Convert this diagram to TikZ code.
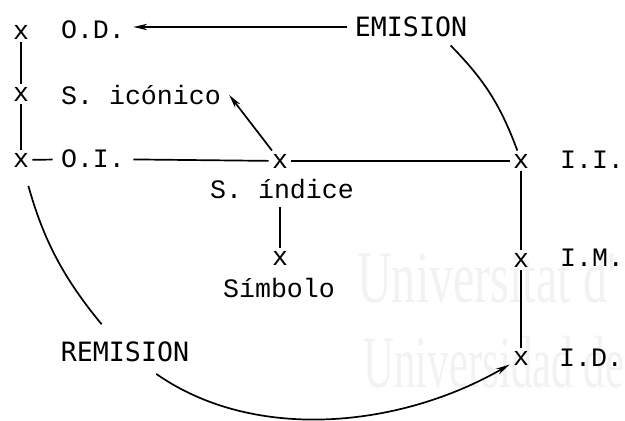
\documentclass[tikz,border=0pt]{standalone}
\usepackage{fontspec}
\newfontfamily\fmaquina{Liberation Mono}
\newfontfamily\frotulo{DejaVu Sans Mono}
\newfontfamily\fagua{Liberation Serif}
\usepackage{tikz}
\usetikzlibrary{arrows.meta}

\begin{document}
\begin{tikzpicture}[
    x=0.5pt, y=-0.5pt,
    cruz/.style   ={font=\fmaquina\fontsize{13.3}{16}\selectfont, inner sep=1.5pt},
    texto/.style  ={font=\fmaquina\fontsize{13.3}{16}\selectfont, inner sep=4pt},
    lado/.style   ={texto, inner sep=0.5pt},
    rotulo/.style ={font=\frotulo\fontsize{13.3}{16}\selectfont, inner sep=4pt},
    agua/.style   ={font=\fagua\fontsize{37}{40}\selectfont, text=black!5,
                    inner sep=0pt, anchor=base west},
    linea/.style  ={draw=black, line width=0.85pt},
    fl/.style     ={linea, -{Stealth[length=7pt,width=3.2pt]}}
  ]
  \useasboundingbox (0,0) rectangle (625,421);

  % --- marca de agua ------------------------------------------------------
  \node[agua, xscale=0.65] (wm1) at (357,303) {Universitat d'};
  \node[agua, xscale=0.58] (wm2) at (363,387) {Universidad de};

  % --- cruces ---------------------------------------------------------------
  \node[cruz] (mOD)   at ( 21, 32) {x};
  \node[cruz] (mSic)  at ( 21, 94) {x};
  \node[cruz] (mOI)   at ( 21,160) {x};
  \node[cruz] (mSind) at (280,161) {x};
  \node[cruz] (mSimb) at (280,258) {x};
  \node[cruz] (mII)   at (521,161) {x};
  \node[cruz] (mIM)   at (521,260) {x};
  \node[cruz] (mID)   at (521,358) {x};

  % --- rotulos --------------------------------------------------------------
  \node[texto]  (od)    at ( 93, 30) {O.D.};
  \node[texto]  (sic)   at (141, 95) {S. icónico};
  \node[texto]  (oi)    at ( 93,159) {O.I.};
  \node[texto]  (sind)  at (282,189) {S. índice};
  \node[texto]  (simb)  at (279,288) {Símbolo};
  \node[lado]   (ii)    at (592,160) {I.I.};
  \node[lado]   (im)    at (592,258) {I.M.};
  \node[lado]   (id)    at (591,358) {I.D.};
  \node[rotulo] (emis)  at (411, 27) {EMISION};
  \node[rotulo] (remis) at (125,352) {REMISION};

  % --- trazos ---------------------------------------------------------------
  \draw[linea] (mOD) -- (mSic) -- (mOI);
  \draw[linea] (mII) -- (mIM) -- (mID);
  \draw[linea] (mOI) -- (oi);
  \draw[linea] (oi) -- (mSind);
  \draw[linea] (mSind) -- (mII);
  \draw[linea] (mSimb) -- (mSimb |- sind.south);
  \draw[fl] (mSind) -- (sic.east);
  \draw[fl] (emis.west) -- (od.east |- emis.west);
  \draw[linea] (emis.-25) to[bend left=12] (mII);
  \draw[linea, shorten <=8pt, shorten >=6pt] (mOI) to[bend right=12] (remis);
  \draw[fl, shorten <=3pt] (remis) to[out=-35, in=210, looseness=0.9] (mID);

\end{tikzpicture}
\end{document}
